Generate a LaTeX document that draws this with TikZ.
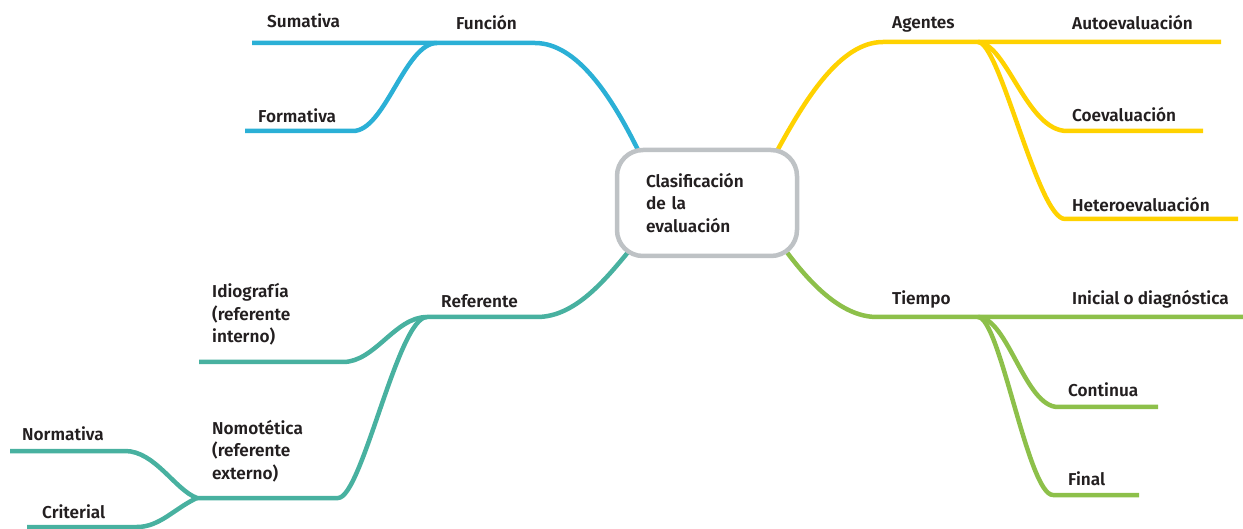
\documentclass[tikz,border=0pt]{standalone}
\usepackage{fontspec}
\setmainfont{Fira Sans SemiBold}
\definecolor{cBlue}{RGB}{43,176,214}
\definecolor{cYel}{RGB}{255,210,0}
\definecolor{cGreen}{RGB}{141,192,74}
\definecolor{cTeal}{RGB}{72,177,160}
\definecolor{cGray}{RGB}{190,194,197}
\definecolor{cText}{RGB}{35,31,32}
\tikzset{
  br/.style={line width=4.5pt, line cap=butt, line join=round},
  lbl/.style={anchor=base west, inner sep=0pt, text=cText, font=\fontsize{17.2}{22.5}\selectfont, align=left},
  centerbox/.style={draw=cGray, line width=4.5pt, rounded corners=26pt, fill=white,
     minimum width=180pt, minimum height=106pt, text width=122pt, inner xsep=0pt,
     align=left, text=cText, font=\fontsize{17.2}{22.5}\selectfont}
}
\begin{document}
\begin{tikzpicture}[x=1pt,y=-1pt]
\useasboundingbox (0,0) rectangle (1243,529);
% coordinates
\coordinate (bS) at (639,152);
\coordinate (fK) at (535,43);
\coordinate (fJ) at (437,43);
\coordinate (sumE) at (252,43);
\coordinate (forK) at (353,131);
\coordinate (forE) at (245,131);
\coordinate (yS) at (777,151);
\coordinate (aK) at (883,42);
\coordinate (aJ) at (978,42);
\coordinate (autoE) at (1221,42);
\coordinate (coK) at (1067,131);
\coordinate (coE) at (1203,131);
\coordinate (heK) at (1065,219);
\coordinate (heE) at (1238,219);
\coordinate (gS) at (786,251);
\coordinate (tK) at (877,317);
\coordinate (tJ) at (978,317);
\coordinate (iniE) at (1243,317);
\coordinate (conK) at (1058,407);
\coordinate (conE) at (1158,407);
\coordinate (finK) at (1053,495);
\coordinate (finE) at (1139,495);
\coordinate (rS) at (629,251);
\coordinate (rK) at (537,317);
\coordinate (rJ) at (427,317);
\coordinate (idK) at (343,362);
\coordinate (idE) at (199,362);
\coordinate (noK) at (338,498);
\coordinate (noJ) at (197,498);
\coordinate (nmK) at (125,451);
\coordinate (nmE) at (10,451);
\coordinate (crK) at (137,527);
\coordinate (crE) at (27,527);
% branches
\draw[br, cBlue] (bS) .. controls (612,97) and (577,43) .. (fK) -- (sumE);
\draw[br, cBlue] (fJ) .. controls (405,43) and (385,131) .. (forK) -- (forE);
\draw[br, cYel] (yS) .. controls (805,100) and (840,42) .. (aK) -- (autoE);
\draw[br, cYel] (aJ) .. controls (1007,44) and (1027,131) .. (coK) -- (coE);
\draw[br, cYel] (aJ) .. controls (1000,42) and (1038,219) .. (heK) -- (heE);
\draw[br, cGreen] (gS) .. controls (815,290) and (845,317) .. (tK) -- (iniE);
\draw[br, cGreen] (tJ) .. controls (1008,318) and (1025,407) .. (conK) -- (conE);
\draw[br, cGreen] (tJ) .. controls (1000,317) and (1028,495) .. (finK) -- (finE);
\draw[br, cTeal] (rS) .. controls (605,280) and (575,317) .. (rK) -- (rJ);
\draw[br, cTeal] (rJ) .. controls (395,317) and (375,362) .. (idK) -- (idE);
\draw[br, cTeal] (rJ) .. controls (398,317) and (362,498) .. (noK) -- (noJ);
\draw[br, cTeal] (noJ) .. controls (175,490) and (155,451) .. (nmK) -- (nmE);
\draw[br, cTeal] (noJ) .. controls (175,508) and (160,527) .. (crK) -- (crE);
% center
\node[centerbox] (center) at (707,203) {Clasificación\\de la\\evaluación};
% labels
\node[lbl] (sum) at (267,28) {Sumativa};
\node[lbl] (fun) at (456,30) {Función};
\node[lbl] (for) at (258,123) {Formativa};
\node[lbl] (age) at (892,29) {Agentes};
\node[lbl] (aut) at (1072,30) {Autoevaluación};
\node[lbl] (coe) at (1072,122) {Coevaluación};
\node[lbl] (het) at (1072,212) {Heteroevaluación};
\node[lbl] (tie) at (892,305) {Tiempo};
\node[lbl] (ini) at (1072,305) {Inicial o diagnóstica};
\node[lbl] (con) at (1068,397) {Continua};
\node[lbl] (fin) at (1068,485) {Final};
\node[lbl] (ref) at (441,308) {Referente};
\node[lbl] (idi) at (212,343) {Idiografía\\(referente\\interno)};
\node[lbl] (nom) at (212,479) {Nomotética\\(referente\\externo)};
\node[lbl] (nor) at (22,440) {Normativa};
\node[lbl] (cri) at (42,518) {Criterial};
\end{tikzpicture}
\end{document}
